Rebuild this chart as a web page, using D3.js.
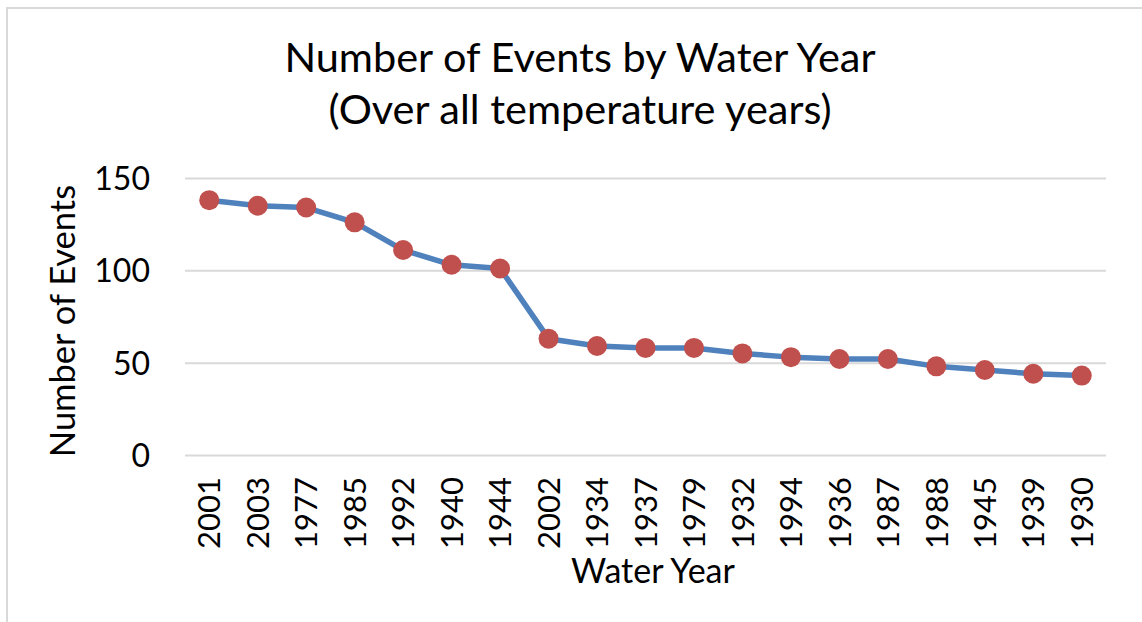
<!DOCTYPE html>
<html lang="en">
<head>
    <meta charset="UTF-8">
    <title>Number of Events by Water Year</title>
    <script src="https://d3js.org/d3.v7.min.js"></script>
    <style>
        body { margin: 0; background: #fff; }
        text { font-family: Lato, "Open Sans", sans-serif; fill: #000; }
    </style>
</head>
<body>
    <script>
        // values
        const waterYears = ["2001", "2003", "1977", "1985", "1992", "1940", "1944", "2002", "1934", "1937",
            "1979", "1932", "1994", "1936", "1987", "1988", "1945", "1939", "1930"];
        const eventCounts = [138, 135, 134, 126, 111, 103, 101, 63, 59, 58, 58, 55, 53, 52, 52, 48, 46, 44, 43];
        const yTicks = [0, 50, 100, 150];
        const titleLines = ["Number of Events by Water Year", "(Over all temperature years)"];

        const width = 1142;
        const height = 622;
        const plot = { left: 185, right: 1106, top: 178, bottom: 455 };

        const svg = d3.select("body").append("svg")
            .attr("width", width)
            .attr("height", height);

        // chart border (only top and left visible in the frame)
        svg.append("rect")
            .attr("x", 7)
            .attr("y", 8)
            .attr("width", width + 20)
            .attr("height", height + 20)
            .attr("fill", "none")
            .attr("stroke", "#d9d9d9")
            .attr("stroke-width", 2);

        const x = d3.scaleBand()
            .domain(waterYears)
            .range([plot.left, plot.right]);

        const y = d3.scaleLinear()
            .domain([0, 150])
            .range([plot.bottom, plot.top]);

        const xc = d => x(d) + x.bandwidth() / 2;

        // gridlines + y labels
        const yAxis = svg.append("g")
            .attr("transform", `translate(${plot.left},0)`)
            .call(d3.axisLeft(y).tickValues(yTicks).tickSize(-(plot.right - plot.left)).tickPadding(35));
        yAxis.select(".domain").remove();
        yAxis.selectAll(".tick line").attr("stroke", "#d9d9d9").attr("stroke-width", 2);
        yAxis.selectAll(".tick text")
            .style("font-family", "Lato, sans-serif")
            .style("font-size", "32px")
            .attr("fill", "#000")
            .attr("dy", "0.36em");

        // x labels, rotated
        const xAxis = svg.append("g")
            .attr("transform", `translate(0,${plot.bottom})`)
            .call(d3.axisBottom(x).tickSize(0).tickPadding(0));
        xAxis.select(".domain").remove();
        xAxis.selectAll(".tick text")
            .style("font-family", "Lato, sans-serif")
            .style("font-size", "31px")
            .attr("fill", "#000")
            .attr("text-anchor", "end")
            .attr("transform", "rotate(-90)")
            .attr("x", -22)
            .attr("y", 0)
            .attr("dy", "0.36em");

        // line
        const line = d3.line()
            .x((d, i) => xc(waterYears[i]))
            .y(d => y(d));

        svg.append("path")
            .datum(eventCounts)
            .attr("d", line)
            .attr("fill", "none")
            .attr("stroke", "#4f81bd")
            .attr("stroke-width", 5.5)
            .attr("stroke-linejoin", "round");

        svg.selectAll(".dot")
            .data(eventCounts)
            .enter().append("circle")
            .attr("class", "dot")
            .attr("cx", (d, i) => xc(waterYears[i]))
            .attr("cy", d => y(d))
            .attr("r", 10)
            .attr("fill", "#c0504d");

        // titles
        svg.selectAll(".title")
            .data(titleLines)
            .enter().append("text")
            .attr("class", "title")
            .attr("x", 580)
            .attr("y", (d, i) => 72 + i * 52)
            .attr("text-anchor", "middle")
            .style("font-size", "41.5px")
            .text(d => d);

        svg.append("text")
            .attr("x", 653)
            .attr("y", 583)
            .attr("text-anchor", "middle")
            .style("font-size", "34px")
            .text("Water Year");

        svg.append("text")
            .attr("transform", "translate(75,321) rotate(-90)")
            .attr("text-anchor", "middle")
            .style("font-size", "34.5px")
            .text("Number of Events");
    </script>
</body>
</html>
